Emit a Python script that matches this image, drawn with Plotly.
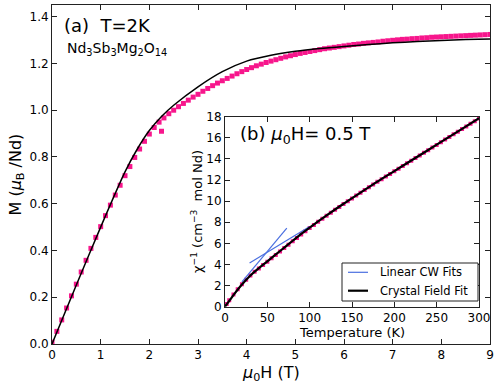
import plotly.graph_objects as go

# ---------------- data: panel (a) M vs H at T = 2 K ----------------
field_T = [0.0, 0.1, 0.2, 0.3, 0.4, 0.5, 0.6, 0.7, 0.8, 0.9,
           1.0, 1.1, 1.2, 1.3, 1.4, 1.5, 1.6, 1.7, 1.8, 1.9,
           2.0, 2.1, 2.2, 2.25, 2.3, 2.4, 2.5, 2.6, 2.7, 2.8, 2.9,
           3.0, 3.1, 3.2, 3.3, 3.4, 3.5, 3.6, 3.7, 3.8, 3.9,
           4.0, 4.1, 4.2, 4.3, 4.4, 4.5, 4.6, 4.7, 4.8, 4.9,
           5.0, 5.1, 5.2, 5.3, 5.4, 5.5, 5.6, 5.7, 5.8, 5.9,
           6.0, 6.1, 6.2, 6.3, 6.4, 6.5, 6.6, 6.7, 6.8, 6.9,
           7.0, 7.1, 7.2, 7.3, 7.4, 7.5, 7.6, 7.7, 7.8, 7.9,
           8.0, 8.1, 8.2, 8.3, 8.4, 8.5, 8.6, 8.7, 8.8, 8.9, 9.0]
magnetization = [0.008, 0.054, 0.103, 0.154, 0.206, 0.256, 0.308, 0.358, 0.409, 0.456,
                 0.502, 0.549, 0.594, 0.637, 0.679, 0.72, 0.759, 0.798, 0.834, 0.867,
                 0.898, 0.926, 0.949, 0.91, 0.967, 0.985, 1.0, 1.015, 1.029, 1.043, 1.056,
                 1.068, 1.081, 1.093, 1.105, 1.116, 1.126, 1.136, 1.146, 1.156, 1.165,
                 1.174, 1.182, 1.19, 1.197, 1.204, 1.21, 1.216, 1.222, 1.228, 1.233,
                 1.238, 1.243, 1.247, 1.251, 1.255, 1.259, 1.263, 1.266, 1.269, 1.272,
                 1.275, 1.278, 1.281, 1.283, 1.286, 1.288, 1.29, 1.292, 1.295, 1.297,
                 1.299, 1.301, 1.303, 1.304, 1.306, 1.307, 1.309, 1.31, 1.312, 1.313,
                 1.314, 1.315, 1.316, 1.317, 1.318, 1.319, 1.32, 1.321, 1.322, 1.323, 1.324]

fit_field = [0.0, 0.5, 1.0, 1.5, 1.75, 2.0, 2.25, 2.5, 3.0, 3.5, 4.0, 4.5,
             5.0, 5.5, 6.0, 6.5, 7.0, 7.5, 8.0, 8.5, 9.0]
fit_magnetization = [0.0, 0.252, 0.5, 0.736, 0.833, 0.913, 0.973, 1.021, 1.1, 1.165,
                     1.21, 1.235, 1.252, 1.264, 1.273, 1.281, 1.288, 1.294, 1.298,
                     1.302, 1.305]

# ---------------- data: panel (b) inverse susceptibility ----------------
temperature = [2, 5, 10, 15, 20, 25, 30, 35, 40, 45, 50, 55, 60, 65, 70, 75, 80, 85, 90, 95,
               100, 105, 110, 115, 120, 125, 130, 135, 140, 145, 150, 155, 160, 165, 170,
               175, 180, 185, 190, 195, 200, 205, 210, 215, 220, 225, 230, 235, 240, 245,
               250, 255, 260, 265, 270, 275, 280, 285, 290, 295, 300]
inv_chi = [0.25, 0.6, 1.15, 1.65, 2.12, 2.55, 2.95, 3.3, 3.62, 3.95, 4.27, 4.6, 4.9, 5.22,
           5.55, 5.88, 6.2, 6.52, 6.85, 7.15, 7.45, 7.75, 8.05, 8.33, 8.62, 8.9, 9.18,
           9.45, 9.72, 9.99, 10.26, 10.53, 10.79, 11.05, 11.31, 11.57, 11.83, 12.08,
           12.33, 12.58, 12.83, 13.08, 13.33, 13.58, 13.83, 14.08, 14.33, 14.58, 14.83,
           15.08, 15.33, 15.58, 15.83, 16.08, 16.33, 16.58, 16.83, 17.08, 17.33, 17.58, 17.83]

fit_temperature = [0, 5, 10, 20, 30, 40, 50, 60, 70, 80, 90, 100, 120, 140, 160, 180,
                   200, 220, 240, 260, 280, 300]
fit_inv_chi = [0.0, 0.55, 1.1, 2.1, 2.95, 3.65, 4.3, 4.95, 5.6, 6.25, 6.9, 7.5, 8.65,
               9.75, 10.8, 11.85, 12.85, 13.85, 14.85, 15.85, 16.85, 17.85]

cw_temperature = [20, 73, None, 29, 100]
cw_inv_chi = [2.35, 7.45, None, 4.15, 7.6]

# ticks
main_xticks = [0, 1, 2, 3, 4, 5, 6, 7, 8, 9]
main_yticks = [0.0, 0.2, 0.4, 0.6, 0.8, 1.0, 1.2, 1.4]
main_yticklabels = ["0.0", "0.2", "0.4", "0.6", "0.8", "1.0", "1.2", "1.4"]
inset_xticks = [0, 50, 100, 150, 200, 250, 300]
inset_yticks = [0, 2, 4, 6, 8, 10, 12, 14, 16, 18]

PINK = "#F7168C"
BLUE = "#4a6fe0"
FONT = "DejaVu Sans"

W, H = 496, 383
ML, MR, MT, MB = 52, 6, 5, 39
PW, PH = W - ML - MR, H - MT - MB


def px(x):
    return (x - ML) / PW


def py(y):
    return (H - MB - y) / PH


fig = go.Figure()

fig.add_trace(go.Scatter(x=field_T, y=magnetization, mode="markers",
                         marker=dict(symbol="square", size=5, color=PINK, line=dict(width=0)),
                         showlegend=False, xaxis="x", yaxis="y"))
fig.add_trace(go.Scatter(x=fit_field, y=fit_magnetization, mode="lines",
                         line=dict(color="black", width=1.5, shape="spline", smoothing=0.8),
                         showlegend=False, xaxis="x", yaxis="y"))

fig.add_trace(go.Scatter(x=temperature, y=inv_chi, mode="markers",
                         marker=dict(symbol="square", size=4, color=PINK, line=dict(width=0)),
                         showlegend=False, xaxis="x2", yaxis="y2"))
fig.add_trace(go.Scatter(x=cw_temperature, y=cw_inv_chi, mode="lines",
                         line=dict(color=BLUE, width=1.2), name="Linear CW Fits",
                         connectgaps=False, showlegend=False, xaxis="x2", yaxis="y2"))
fig.add_trace(go.Scatter(x=fit_temperature, y=fit_inv_chi, mode="lines",
                         line=dict(color="black", width=2.2, shape="spline"),
                         name="Crystal Field Fit", showlegend=False, xaxis="x2", yaxis="y2"))

axis_common = dict(showline=True, linecolor="#222", linewidth=1, mirror="allticks",
                   ticks="inside", ticklen=5, tickcolor="#222", showgrid=False,
                   zeroline=False, automargin=False,
                   tickfont=dict(family=FONT, size=12, color="black"))

fig.update_layout(
    width=W, height=H,
    margin=dict(l=ML, r=MR, t=MT, b=MB, autoexpand=False),
    paper_bgcolor="white", plot_bgcolor="white",
    font=dict(family=FONT, color="black"),
    xaxis=dict(domain=[0, 1], range=[0, 9], tickvals=main_xticks, anchor="y", **axis_common),
    yaxis=dict(domain=[0, 1], range=[0, 1.45], tickvals=main_yticks,
               ticktext=main_yticklabels, anchor="x", **axis_common),
    xaxis2=dict(domain=[px(225), px(479)], range=[0, 300], tickvals=inset_xticks,
                anchor="y2", **axis_common),
    yaxis2=dict(domain=[py(306.7), py(116.7)], range=[0, 18], tickvals=inset_yticks,
                anchor="x2", **axis_common),
    showlegend=False,
)

# manual legend box inside the inset
shapes = [
    dict(type="rect", x0=px(342), x1=px(478), y0=py(301), y1=py(263),
         line=dict(color="#222", width=1), fillcolor="white", layer="above"),
    dict(type="line", x0=px(348), x1=px(368), y0=py(272.3), y1=py(272.3),
         line=dict(color=BLUE, width=1.2), layer="above"),
    dict(type="line", x0=px(348), x1=px(368), y0=py(290.7), y1=py(290.7),
         line=dict(color="black", width=2.2), layer="above"),
]
for s in shapes:
    s.update(xref="paper", yref="paper")
fig.update_layout(shapes=shapes)

annotations = [
    dict(text="(a)  T=2K", x=px(62), y=py(25), xanchor="left", yanchor="middle",
         font=dict(size=18)),
    dict(text="Nd<sub>3</sub>Sb<sub>3</sub>Mg<sub>2</sub>O<sub>14</sub>", x=px(65), y=py(49),
         xanchor="left", yanchor="middle", font=dict(size=14)),
    dict(text="(b) <i>μ</i><sub>0</sub>H= 0.5 T", x=px(238), y=py(135),
         xanchor="left", yanchor="middle", font=dict(size=18)),
    dict(text="M (<i>μ</i><sub>B</sub> /Nd)", x=px(16), y=0.5, textangle=-90,
         xanchor="center", yanchor="middle", font=dict(size=16)),
    dict(text="<i>μ</i><sub>0</sub>H (T)", x=0.5, y=py(373),
         xanchor="center", yanchor="middle", font=dict(size=16)),
    dict(text="Temperature (K)", x=px(352), y=py(332),
         xanchor="center", yanchor="middle", font=dict(size=13)),
    dict(text="χ<sup>−1</sup> (cm<sup>−3</sup>  mol Nd)", x=px(197),
         y=py(212), textangle=-90,
         xanchor="center", yanchor="middle", font=dict(size=13)),
    dict(text="Linear CW Fits", x=px(378), y=py(272.3), xanchor="left", yanchor="middle",
         font=dict(size=11.5)),
    dict(text="Crystal Field Fit", x=px(378), y=py(290.7), xanchor="left", yanchor="middle",
         font=dict(size=11.5)),
]
for a in annotations:
    a.update(xref="paper", yref="paper", showarrow=False)
    a["font"].update(family=FONT, color="black")
fig.update_layout(annotations=annotations)

fig.write_html("out.html",
               config={"displayModeBar": False, "staticPlot": True},
               post_script="document.body.style.margin='0';"
                           "document.body.style.overflow='hidden';")
